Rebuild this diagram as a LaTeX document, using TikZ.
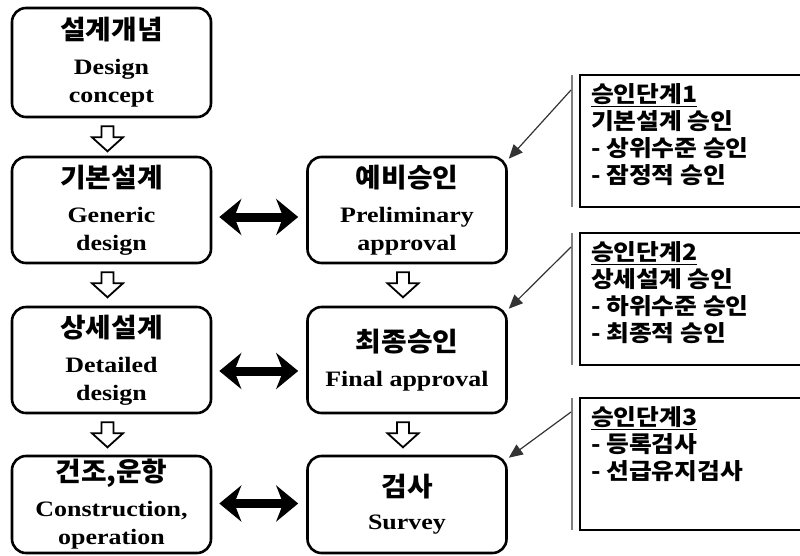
\documentclass[tikz,border=0pt]{standalone}
\usepackage{fontspec}
\usetikzlibrary{arrows.meta}
\newfontfamily\kfont{Noto Sans CJK KR}[FakeStretch=1.1]
\newfontfamily\ktfont{Noto Sans CJK KR}[FakeStretch=1.05]
\newfontfamily\efont{Liberation Serif}[FakeStretch=1.18]

\tikzset{
  stage/.style={draw, line width=2.6pt, rounded corners=14pt, minimum width=199pt,
    align=center, inner sep=0pt, font=\efont\bfseries\fontsize{22}{28}\selectfont},
  link/.style={line width=9pt, {Stealth[length=22pt,width=36pt,inset=7pt]}-{Stealth[length=22pt,width=36pt,inset=7pt]}},
  callout/.style={draw=black!80, line width=1.2pt, -{Triangle[length=14pt,width=12pt]}},
  notebox/.style={draw, line width=1.4pt},
  noteedge/.style={draw=black!50, line width=1.8pt},
  notetext/.style={anchor=north west, inner sep=0pt, align=left,
    font=\kfont\bfseries\fontsize{22.5}{27}\selectfont},
  pics/downblk/.style={code={
    \draw[line width=1.8pt, line join=miter, fill=white]
      (-6,0) -- (6,0) -- (6,11) -- (15.5,11) -- (0,25) -- (-15.5,11) -- (-6,11) -- cycle;}}
}
\newcommand{\ttl}[1]{{\ktfont\bfseries\fontsize{26.5}{26.5}\selectfont #1}}

\begin{document}
\begin{tikzpicture}[x=1pt,y=-1pt]
\useasboundingbox (0,0) rectangle (800,555);
\clip (0,0) rectangle (800,555);

% design stages (left column)
\node[stage, minimum height=109pt] (L1) at (111.5,62.5) {\ttl{설계개념}\\[7pt]Design\\concept};
\node[stage, minimum height=106pt] (L2) at (111.5,210) {\ttl{기본설계}\\[7pt]Generic\\design};
\node[stage, minimum height=106pt] (L3) at (111.5,360) {\ttl{상세설계}\\[7pt]Detailed\\design};
\node[stage, minimum height=97pt]  (L4) at (111.5,504.5) {\ttl{건조,운항}\\[7pt]Construction,\\operation};

% approval stages (right column)
\node[stage, minimum height=106pt] (R1) at (407,210) {\ttl{예비승인}\\[7pt]Preliminary\\approval};
\node[stage, minimum height=106pt] (R2) at (407,360) {\ttl{최종승인}\\[7pt]Final approval};
\node[stage, minimum height=97pt]  (R3) at (407,504.5) {\ttl{검사}\\[5pt]Survey};

% flow arrows between stages
\pic at ([xshift=-4pt,yshift=-8pt]L1.south) {downblk};
\pic at ([xshift=-4pt,yshift=-8pt]L2.south) {downblk};
\pic at ([xshift=-4pt,yshift=-8pt]L3.south) {downblk};
\pic at ([xshift=-4pt,yshift=-8pt]R1.south) {downblk};
\pic at ([xshift=-4pt,yshift=-8pt]R2.south) {downblk};

% two-way links
\draw[link] ([xshift=7pt,yshift=-7pt]L2.east) -- ([xshift=-8pt,yshift=-7pt]R1.west);
\draw[link] ([xshift=7pt,yshift=-11pt]L3.east) -- ([xshift=-8pt,yshift=-11pt]R2.west);
\draw[link] ([xshift=7pt,yshift=1pt]L4.east) -- ([xshift=-8pt,yshift=1pt]R3.west);

% approval step notes
\draw[notebox] (580,75) rectangle (812,207);
\draw[noteedge] (572,75) -- (572,207);
\node[notetext] (N1) at (591,83) {\underline{승인단계1}\\기본설계 승인\\- 상위수준 승인\\- 잠정적 승인};

\draw[notebox] (580,233) rectangle (812,365);
\draw[noteedge] (572,233) -- (572,365);
\node[notetext] (N2) at (591,241) {\underline{승인단계2}\\상세설계 승인\\- 하위수준 승인\\- 최종적 승인};

\draw[notebox] (580,398) rectangle (812,530);
\draw[noteedge] (572,398) -- (572,530);
\node[notetext] (N3) at (591,406) {\underline{승인단계3}\\- 등록검사\\- 선급유지검사};

% callouts
\coordinate (c1) at (571,90);
\coordinate (c2) at (571,247);
\coordinate (c3) at (571,412);
\draw[callout] (c1) -- ([xshift=1pt,yshift=-3pt]R1.north east);
\draw[callout] (c2) -- ([xshift=1pt,yshift=-3pt]R2.north east);
\draw[callout] (c3) -- ([xshift=1pt,yshift=-3pt]R3.north east);
\end{tikzpicture}
\end{document}
